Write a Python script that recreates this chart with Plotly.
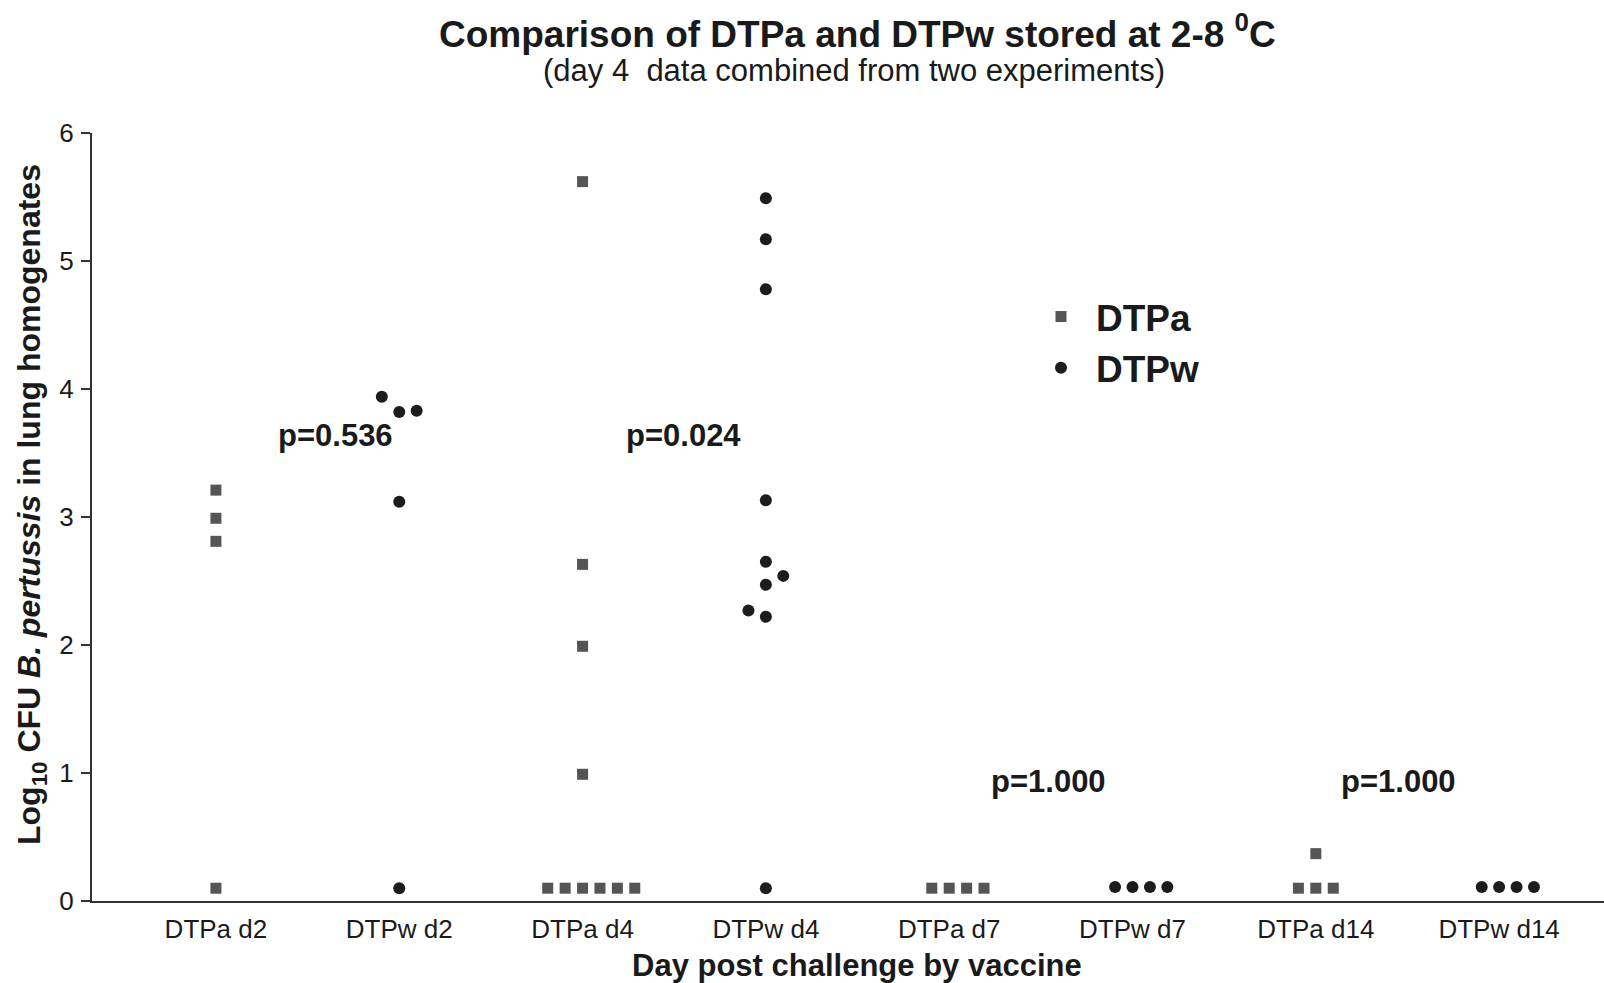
import plotly.graph_objects as go

# ---- data ----
categories = ["DTPa d2", "DTPw d2", "DTPa d4", "DTPw d4",
              "DTPa d7", "DTPw d7", "DTPa d14", "DTPw d14"]

# DTPa (squares): category index, horizontal jitter, log10 CFU
dtpa_group = [0, 0, 0, 0,
              2, 2, 2, 2, 2, 2, 2, 2, 2, 2,
              4, 4, 4, 4,
              6, 6, 6, 6]
dtpa_jitter = [0, 0, 0, 0,
               0, 0, 0, 0, -0.19, -0.095, 0, 0.095, 0.19, 0.285,
               -0.095, 0, 0.095, 0.19,
               0, -0.095, 0, 0.095]
dtpa_values = [3.21, 2.99, 2.81, 0.1,
               5.62, 2.63, 1.99, 0.99, 0.1, 0.1, 0.1, 0.1, 0.1, 0.1,
               0.1, 0.1, 0.1, 0.1,
               0.37, 0.1, 0.1, 0.1]

# DTPw (circles)
dtpw_group = [1, 1, 1, 1, 1,
              3, 3, 3, 3, 3, 3, 3, 3, 3, 3,
              5, 5, 5, 5,
              7, 7, 7, 7]
dtpw_jitter = [-0.095, 0, 0.095, 0, 0,
               0, 0, 0, 0, 0, 0.095, 0, -0.095, 0, 0,
               -0.095, 0, 0.095, 0.19,
               -0.095, 0, 0.095, 0.19]
dtpw_values = [3.94, 3.82, 3.83, 3.12, 0.1,
               5.49, 5.17, 4.78, 3.13, 2.65, 2.54, 2.47, 2.27, 2.22, 0.1,
               0.11, 0.11, 0.11, 0.11,
               0.11, 0.11, 0.11, 0.11]

p_labels = ["p=0.536", "p=0.024", "p=1.000", "p=1.000"]
p_x = [0.65, 2.55, 4.54, 6.45]
p_y = [3.64, 3.64, 0.93, 0.93]

y_ticks = [0, 1, 2, 3, 4, 5, 6]

# ---- figure ----
W, H = 1604, 983
ML, MR, MT, MB = 92, 0, 133, 82
plot_h = H - MT - MB
plot_w = W - ML - MR

def px_to_paper_y(py):
    return (H - MB - py) / plot_h

def px_to_paper_x(px):
    return (px - ML) / plot_w

FONT = "Liberation Sans, Arial, Helvetica, sans-serif"
TXT = "#1a1a1a"

fig = go.Figure()
fig.add_trace(go.Scatter(
    x=[g + j for g, j in zip(dtpa_group, dtpa_jitter)],
    y=dtpa_values, mode="markers", name="DTPa",
    marker=dict(symbol="square", size=11, color="#555555",
                line=dict(width=0)),
))
fig.add_trace(go.Scatter(
    x=[g + j for g, j in zip(dtpw_group, dtpw_jitter)],
    y=dtpw_values, mode="markers", name="DTPw",
    marker=dict(symbol="circle", size=12, color="#1c1c1c",
                line=dict(width=0)),
))

annotations = []
for t, x, y in zip(p_labels, p_x, p_y):
    annotations.append(dict(x=x, y=y, xref="x", yref="y", text=f"<b>{t}</b>",
                            xanchor="center", yanchor="middle",
                            showarrow=False, font=dict(size=31, color=TXT, family=FONT)))

annotations += [
    dict(x=px_to_paper_x(857), y=px_to_paper_y(32), xref="paper", yref="paper",
         xanchor="center", yanchor="middle",
         text="<b>Comparison of DTPa and DTPw stored at 2-8 <sup>0</sup>C</b>",
         showarrow=False, font=dict(size=37, color=TXT, family=FONT)),
    dict(x=px_to_paper_x(854), y=px_to_paper_y(71), xref="paper", yref="paper",
         xanchor="center", yanchor="middle",
         text="(day 4&nbsp; data combined from two experiments)",
         showarrow=False, font=dict(size=31, color=TXT, family=FONT)),
    dict(x=px_to_paper_x(857), y=px_to_paper_y(965), xref="paper", yref="paper",
         xanchor="center", yanchor="middle",
         text="<b>Day post challenge by vaccine</b>",
         showarrow=False, font=dict(size=31, color=TXT, family=FONT)),
    dict(x=px_to_paper_x(31), y=px_to_paper_y(505), xref="paper", yref="paper",
         xanchor="center", yanchor="middle",
         text="<b>Log<sub>10</sub> CFU <i>B. pertussis</i> in lung homogenates</b>",
         textangle=-90, showarrow=False, font=dict(size=32, color=TXT, family=FONT)),
]

fig.update_layout(
    width=W, height=H,
    margin=dict(l=ML, r=MR, t=MT, b=MB, pad=0),
    paper_bgcolor="white", plot_bgcolor="white",
    font=dict(family=FONT, color=TXT),
    showlegend=True,
    legend=dict(x=px_to_paper_x(1026), y=px_to_paper_y(286), xanchor="left", yanchor="top",
                font=dict(size=37, color=TXT, family=FONT, weight="bold"),
                bgcolor="rgba(0,0,0,0)", itemwidth=60, tracegroupgap=0),
    annotations=annotations,
)
fig.update_xaxes(
    range=[-0.676, 7.572],
    tickmode="array", tickvals=list(range(len(categories))), ticktext=categories,
    ticks="", showgrid=False, zeroline=False,
    showline=True, linecolor="#333333", linewidth=2,
    tickfont=dict(size=26, color=TXT, family=FONT),
    ticklabelstandoff=4,
)
fig.update_yaxes(
    range=[0, 6], tickmode="array", tickvals=y_ticks,
    ticks="outside", ticklen=9, tickwidth=2, tickcolor="#333333",
    showgrid=False, zeroline=False,
    showline=True, linecolor="#333333", linewidth=2,
    tickfont=dict(size=26, color=TXT, family=FONT),
    ticklabelstandoff=2,
)

fig.write_html("out.html", config={"displayModeBar": False},
               post_script="document.body.style.margin='0';")
